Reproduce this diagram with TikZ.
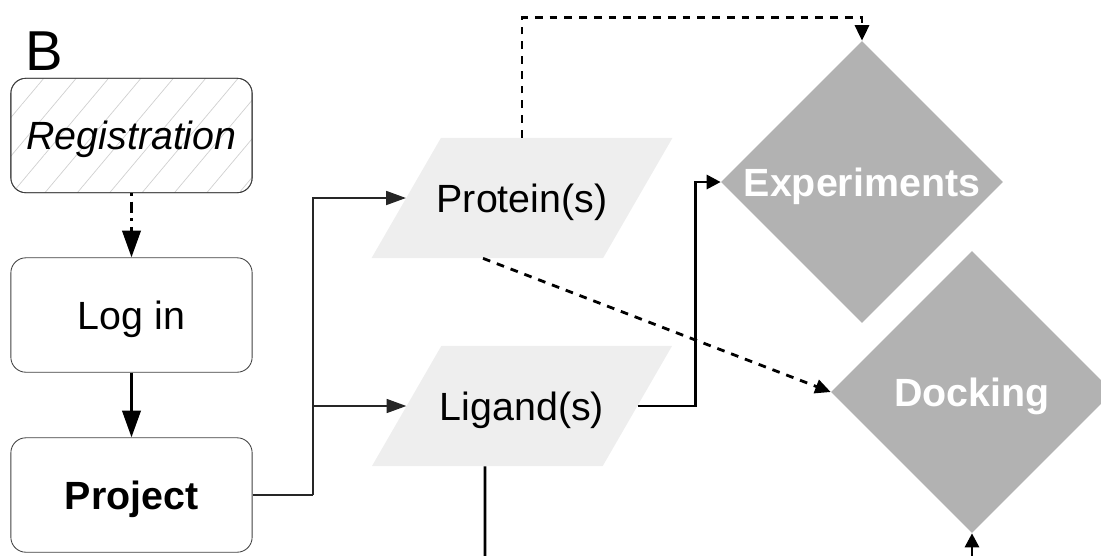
\documentclass[tikz,border=0pt]{standalone}
\usepackage{fontspec}
\setmainfont{Liberation Sans}
\usepackage{tikz}
\usetikzlibrary{shapes.geometric}
\usetikzlibrary{arrows.meta}
\usetikzlibrary{patterns.meta}
\usetikzlibrary{calc}
\definecolor{inputgray}{HTML}{EEEEEE}
\definecolor{taskgray}{HTML}{B2B2B2}
\definecolor{hatchgray}{HTML}{D0D0D0}

\tikzset{
  bigfont/.style={font=\fontsize{28}{32}\selectfont,text depth=0pt},
  stepbox/.style={bigfont,draw=black!75,line width=0.6pt,rounded corners=0.375cm,
    minimum width=6.03cm,minimum height=2.86cm,inner sep=0pt},
  databox/.style={bigfont,text height=20pt,trapezium,trapezium left angle=60,trapezium right angle=120,
    trapezium stretches body=true,fill=inputgray,minimum width=7.5cm,inner xsep=-3pt,inner ysep=32.7pt},
  taskbox/.style={font=\fontsize{28}{32}\selectfont\bfseries,text depth=0pt,diamond,fill=taskgray,
    text=white,minimum width=7.05cm,minimum height=7.05cm,inner sep=0pt},
  thinline/.style={draw=black!85,line width=0.9pt,-{Triangle[length=14pt,width=10pt]}},
  thickline/.style={draw=black,line width=2.1pt},
  dashline/.style={draw=black,line width=2pt,dash pattern=on 5.5pt off 5pt,
    -{Triangle[length=11pt,width=10pt]}}
}

\begin{document}
\begin{tikzpicture}[x=0.025cm,y=-0.025cm]
\useasboundingbox (0,0) rectangle (1101,555);

\node[anchor=base west,font=\fontsize{40}{44}\selectfont] (label) at (21,70) {B};

\node[stepbox,pattern={Lines[angle=50,distance=0.62cm,line width=0.5pt]},pattern color=hatchgray] (reg) at (131.5,135.5) {};
\node[stepbox] (reg) at (131.5,135.5) {\itshape Registration};
\node[stepbox] (login) at (131.5,315) {Log in};
\node[stepbox] (project) at (131.5,495) {\bfseries Project};

\node[databox] (prot) at (522,198) {Protein(s)};
\node[databox] (lig) at (522,406) {Ligand(s)};

\node[taskbox] (exp) at (862,182) {Experiments};
\node[taskbox] (dock) at (972,392) {Docking};

\coordinate (fork) at (313,495);
\coordinate (ligout) at (485,560);
\coordinate (dockin) at (972,560);

  \draw[thickline,dash pattern=on 2pt off 4pt on 8pt off 4pt,-{Triangle[length=19pt,width=13pt]}] (reg) -- (login);
  \draw[thickline,-{Triangle[length=19pt,width=13pt]}] (login) -- (project);

  \draw[thinline,-] (project.east) -- (fork);
  \draw[thinline] (fork) |- (prot.left side);
  \draw[thinline] (fork) |- (lig.left side);

  \draw[dashline] (prot.north) -- ($(prot.north)+(0,-120)$) -| (exp.north);
  \draw[dashline] ($(prot.south)+(-39,0)$) -- (dock.west);

  \draw[thickline,-{Triangle[length=10pt,width=10pt]}] (lig.right side) -| ($(exp.west)+(-25,0)$) -- (exp.west);
  \draw[thickline] ($(lig.south)+(-37,0)$) -- (ligout);
  \draw[thickline,-{Triangle[length=10pt,width=10pt]}] (dockin) -- (dock.south);
\end{tikzpicture}
\end{document}
